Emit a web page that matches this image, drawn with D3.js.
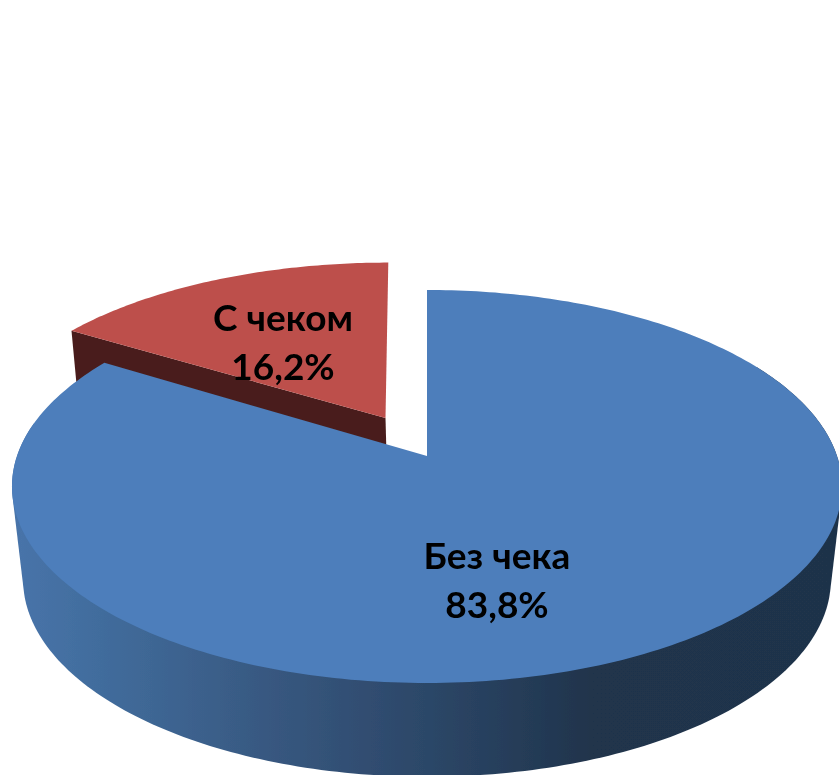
<!DOCTYPE html>
<html><head><meta charset="utf-8">
<script src="https://cdn.jsdelivr.net/npm/d3@7"></script>
<style>html,body{margin:0;padding:0;background:#fff;overflow:hidden}svg{display:block}</style>
</head><body><svg id="c" width="839" height="775"></svg>
<script>
const categories = ["Без чека", "С чеком"];
const shares = [83.8, 16.2];
const shareLabels = ["83,8%", "16,2%"];
const topColors = ["#4d7ebb", "#bd4f4c"];
const wallColors = ["#4a1e1c"];

const svg = d3.select("#c");
const pie = d3.pie().sort(null).value(d => d)(shares);

const P = 0.155;
function projector(ax, ay, rx, ry, lean) {
  return a => {
    const u = Math.sin(a), v = -Math.cos(a), w = 1 - P * v;
    const dy = ry * v / w;
    return [ax + rx * u / w - (lean || 0) * dy, ay + dy];
  };
}
const blueTop = projector(427, 456, 410, 191.8);
const blueBot = projector(427, 549, 399, 192.5);
const redTop = projector(385.5, 418, 401, 179.5, 0.018);
const redBot = projector(388, 512, 393, 179.5, 0.018);

function sampled(proj, a0, a1, n) {
  return d3.range(n + 1).map(i => proj(a0 + (a1 - a0) * i / n));
}
const line = d3.line();

const defs = svg.append("defs");
const grad = defs.append("linearGradient").attr("id", "side")
  .attr("gradientUnits", "userSpaceOnUse")
  .attr("x1", 12).attr("x2", 839).attr("y1", 0).attr("y2", 0);
[[0, "#4874aa"], [0.11, "#416c9c"], [0.32, "#37577f"], [0.5, "#2c4768"], [0.7, "#20344c"], [1, "#1f334a"]]
  .forEach(s => grad.append("stop").attr("offset", s[0]).attr("stop-color", s[1]));
defs.append("filter").attr("id", "soft").append("feGaussianBlur").attr("stdDeviation", 0.6);

const g = svg.append("g").attr("filter", "url(#soft)");

// red wedge: wall, then top
const red = pie[1], blue = pie[0];
const apexT = [385.5, 418], apexB = [388, 512];
g.append("path")
  .attr("d", line([redTop(red.startAngle), apexT, apexB, redBot(red.startAngle)]) + "Z")
  .attr("fill", wallColors[0]);
g.append("path")
  .attr("d", line([apexT].concat(sampled(redTop, red.startAngle, red.endAngle, 80))) + "Z")
  .attr("fill", topColors[1]);

// blue slice: side body in two halves so that no chord crosses the notch, then top
[[60, 182], [178, 280]].forEach(([d0, d1]) => {
  const pts = [];
  d3.range(d0, d1 + 1).forEach(i => {
    const a = i * Math.PI / 180;
    pts.push(blueTop(a), blueBot(a));
  });
  g.append("path").attr("d", line(d3.polygonHull(pts)) + "Z").attr("fill", "url(#side)");
});
g.append("path")
  .attr("d", line([[427, 456]].concat(sampled(blueTop, blue.startAngle, blue.endAngle, 300))) + "Z")
  .attr("fill", topColors[0]);

// labels
const labelPos = [[497, 569, 618], [283, 331, 380]];
const labels = g.append("g").attr("font-family", "Lato, 'Open Sans', 'Noto Sans', sans-serif")
  .attr("font-weight", 700).attr("font-size", 37).attr("fill", "#000").attr("text-anchor", "middle");
categories.forEach((c, i) => {
  labels.append("text").attr("x", labelPos[i][0]).attr("y", labelPos[i][1]).text(c);
  labels.append("text").attr("x", labelPos[i][0]).attr("y", labelPos[i][2]).text(shareLabels[i]);
});
</script></body></html>
